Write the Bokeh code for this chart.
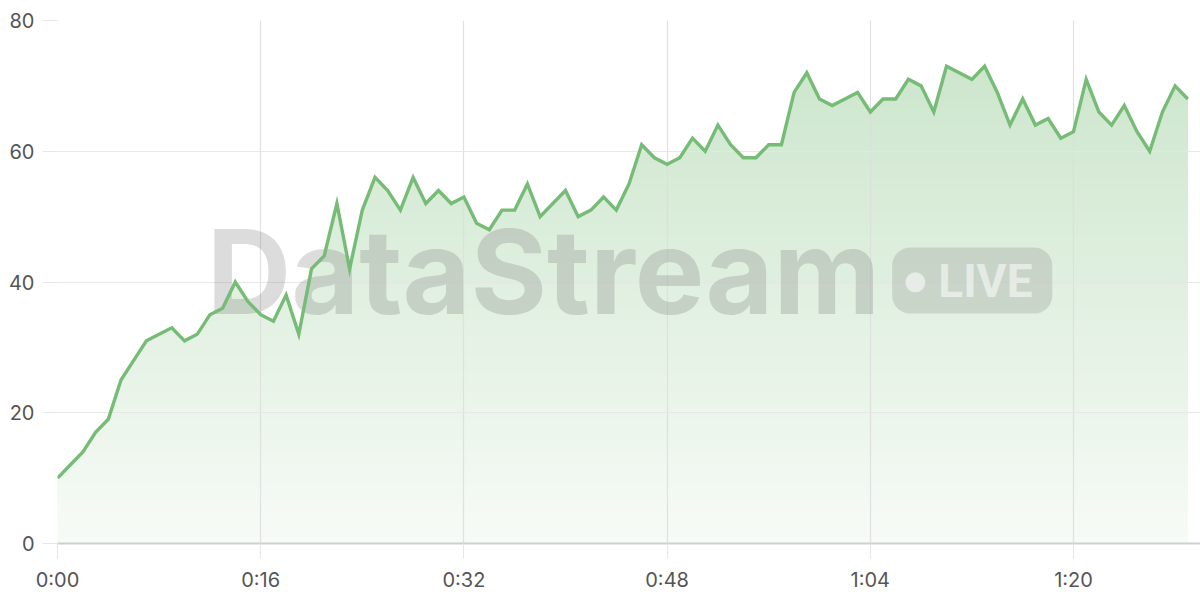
import numpy as np
from bokeh.plotting import figure
from bokeh.models import FixedTicker, Label, BoxAnnotation, Range1d
from bokeh.embed import file_html
from bokeh.resources import INLINE

# ---- data ----
seconds = list(range(90))
values = [10, 12, 14, 17, 19, 25, 28, 31, 32, 33,
          31, 32, 35, 36, 40, 37, 35, 34, 38, 32,
          42, 44, 52, 42, 51, 56, 54, 51, 56, 52,
          54, 52, 53, 49, 48, 51, 51, 55, 50, 52,
          54, 50, 51, 53, 51, 55, 61, 59, 58, 59,
          62, 60, 64, 61, 59, 59, 61, 61, 69, 72,
          68, 67, 68, 69, 66, 68, 68, 71, 70, 66,
          73, 72, 71, 73, 69, 64, 68, 64, 65, 62,
          63, 71, 66, 64, 67, 63, 60, 66, 70, 68]
x_tick_values = [0, 16, 32, 48, 64, 80]
x_tick_labels = ["0:00", "0:16", "0:32", "0:48", "1:04", "1:20"]
y_tick_values = [0, 20, 40, 60, 80]

LINE_RGB = (118, 187, 118)
LINE = "#%02x%02x%02x" % LINE_RGB
GRID = "#e6e6e6"
TEXT = "#555555"
FONT = "Inter"

x = np.array(seconds, dtype=float)
y = np.array(values, dtype=float)

p = figure(width=1200, height=600, output_backend="svg", toolbar_location=None,
           x_range=Range1d(0, 90.0), y_range=Range1d(0, 80),
           min_border_left=57, min_border_right=0, min_border_top=20,
           min_border_bottom=57)
p.outline_line_color = None
p.background_fill_color = "white"
p.border_fill_color = "white"


def blend(alpha):
    r, g, b = (int(round(255 - alpha * (255 - c))) for c in LINE_RGB)
    return "#%02x%02x%02x" % (r, g, b)


# gradient fill: opaque layers, each from its level up to the line
n_layers = 80
levels = np.linspace(0, 80, n_layers + 1)[:-1]
for lo in levels:
    a = 0.06 + 0.0042 * (lo + 0.5)
    p.varea(x=x, y1=np.minimum(y, lo), y2=y, fill_color=blend(a),
            fill_alpha=1.0, level="image")

# watermark (decoration)
wm_color = "#777777"
p.add_layout(Label(x=11.75, y=41.67, text="DataStream", text_font=FONT,
                   text_font_size="117px", text_font_style="bold",
                   text_color=wm_color, text_alpha=0.26,
                   text_baseline="middle", level="underlay"))
p.add_layout(BoxAnnotation(left=65.72, right=78.33, bottom=35.17, top=45.26,
                           fill_color=wm_color, fill_alpha=0.22, line_color=None,
                           border_radius=18, level="underlay"))
p.scatter(x=[67.55], y=[39.95], size=20, marker="circle",
          fill_color="white", fill_alpha=0.55, line_color=None)
p.add_layout(Label(x=69.35, y=40.2, text="LIVE", text_font="Roboto",
                   text_font_size="46px", text_font_style="bold",
                   text_color="white", text_alpha=0.55,
                   text_baseline="middle"))

# line
p.line(x=x, y=y, line_color=LINE, line_width=3.4, line_join="miter")

# axes
p.xaxis.ticker = FixedTicker(ticks=x_tick_values)
p.xaxis.major_label_overrides = {v: l for v, l in zip(x_tick_values, x_tick_labels)}
p.yaxis.ticker = FixedTicker(ticks=y_tick_values)
p.xgrid.ticker = FixedTicker(ticks=x_tick_values)
p.ygrid.ticker = FixedTicker(ticks=y_tick_values)

for ax in (p.xaxis, p.yaxis):
    ax.major_tick_out = 15
    ax.major_tick_in = 0
    ax.minor_tick_out = 0
    ax.minor_tick_in = 0
    ax.major_tick_line_color = GRID
    ax.major_tick_line_width = 1
    ax.major_label_text_font = FONT
    ax.major_label_text_font_size = "20px"
    ax.major_label_text_color = TEXT
p.xaxis.axis_line_color = "#cfcfcf"
p.xaxis.axis_line_width = 2
p.yaxis.axis_line_color = None
p.xaxis.major_label_standoff = 9
p.yaxis.major_label_standoff = 8

p.xgrid.grid_line_color = "#dedede"
p.ygrid.grid_line_color = GRID
p.xgrid.grid_line_width = 1.2
p.ygrid.grid_line_width = 1.2
p.xgrid.grid_line_alpha = 0.9
p.ygrid.grid_line_alpha = 0.9

open("out.html", "w").write(file_html(p, INLINE))
